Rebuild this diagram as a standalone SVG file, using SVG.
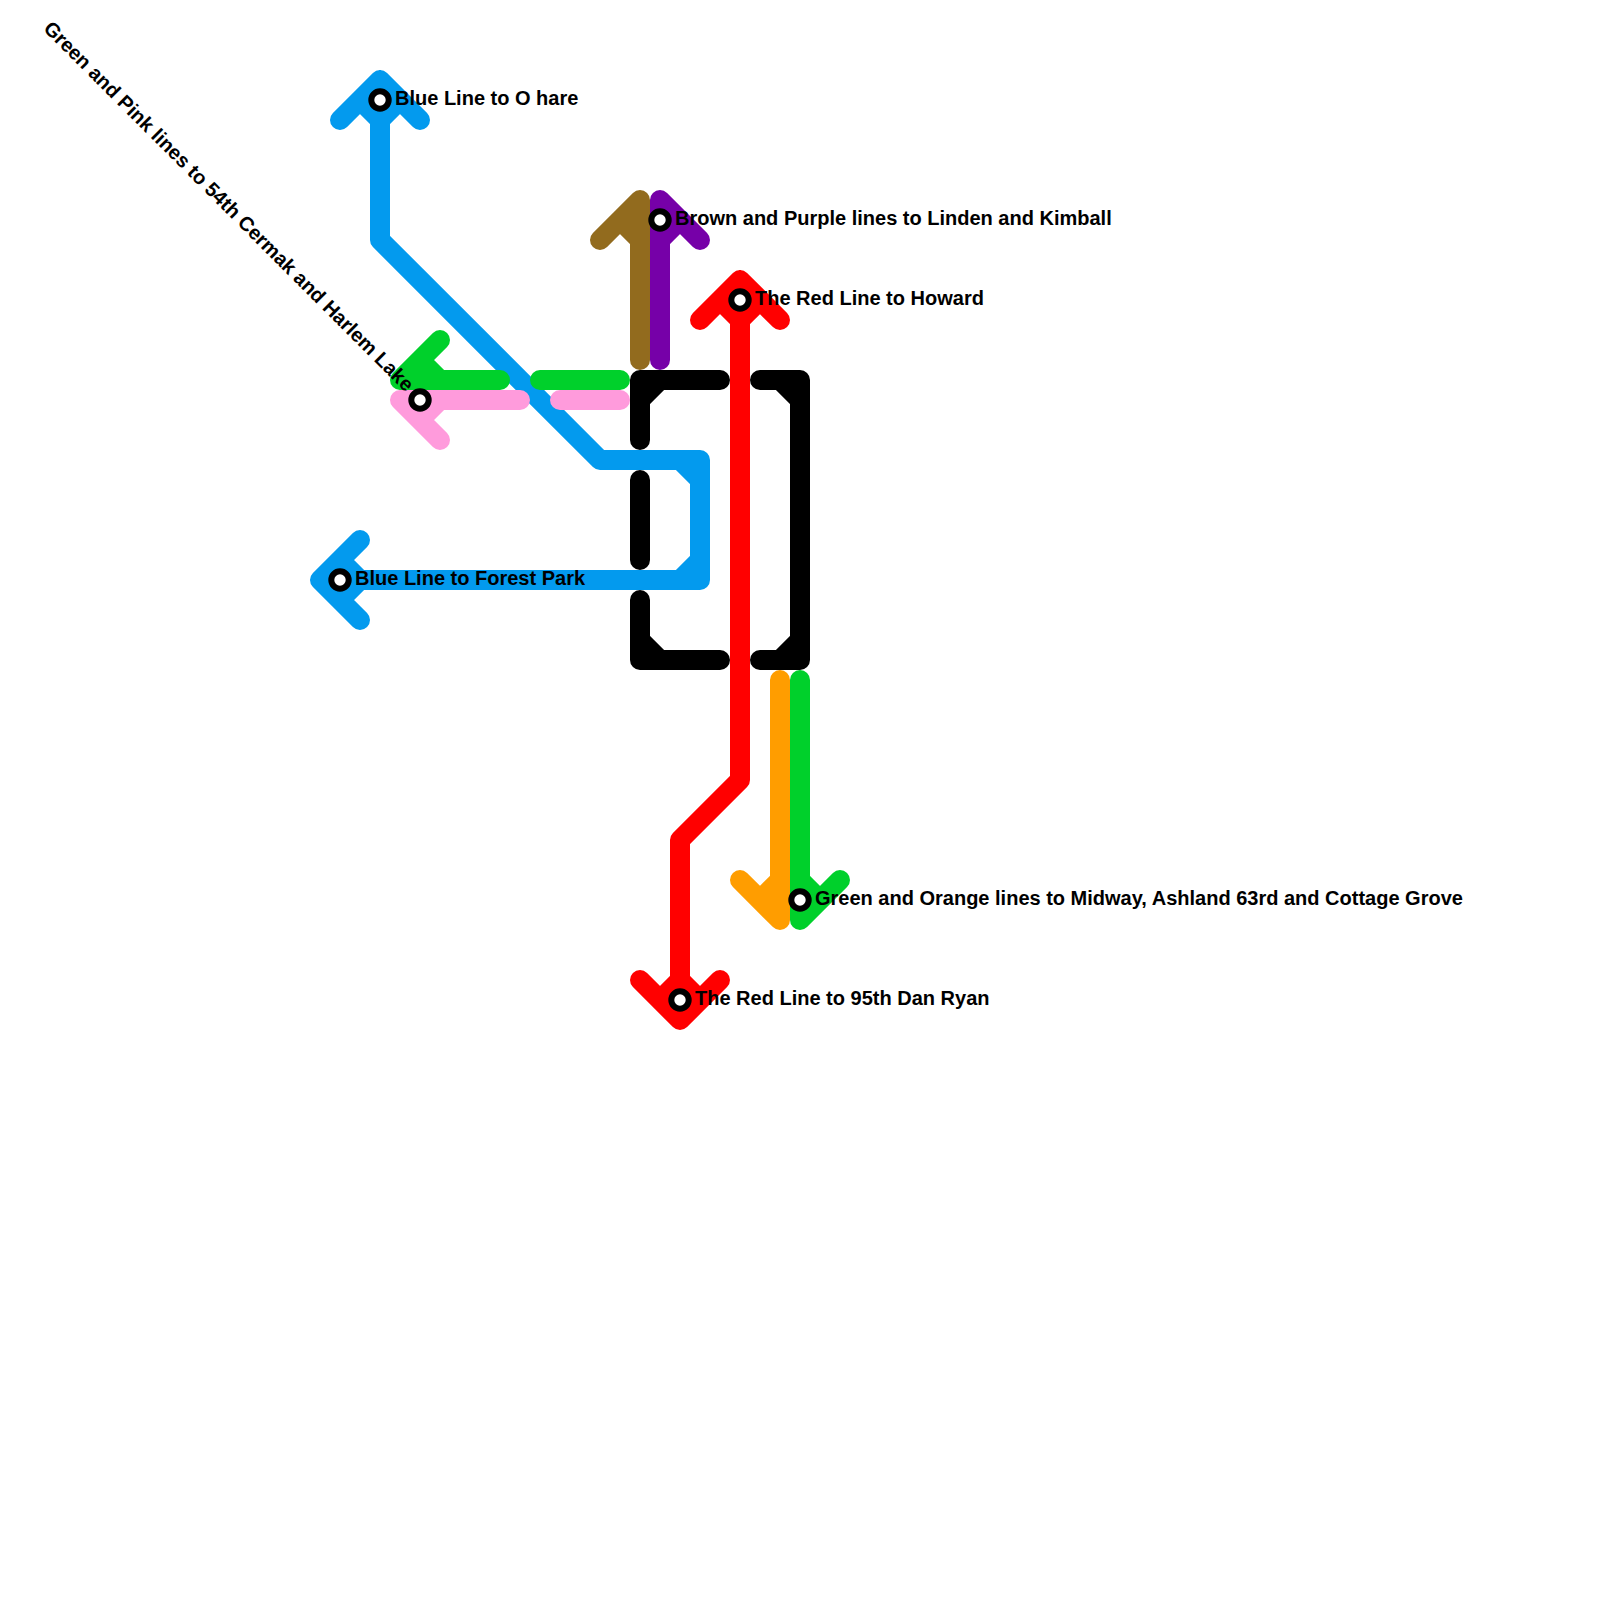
<svg xmlns="http://www.w3.org/2000/svg" width="1600" height="1600" viewBox="0 0 1600 1600">
<style>
.l{fill:none;stroke-width:20;stroke-linecap:round;stroke-linejoin:round}
.blue{stroke:#039aee}.green{stroke:#00d02b}.pink{stroke:#ff9bdc}.black{stroke:#000}.brown{stroke:#926b1e}.purple{stroke:#7600a8}.red{stroke:#ff0000}.orange{stroke:#ff9d00}
.s{fill:#fff;stroke:#000;stroke-width:6}
text{font-family:"Liberation Sans",Arial,sans-serif;font-weight:bold;font-size:20px;fill:#000}
</style>
<rect width="1600" height="1600" fill="#fff"/>
<g id="connectors">
<path class="l blue" d="M340 120L380 80L420 120M360 100L380 120M400 100L380 120M380 80V240L600 460H700V580H340M680 460L700 480M700 560L680 580M360 540L320 580L360 620M340 560L360 580M340 600L360 580"/>
<path class="l brown" d="M600 240L640 200V360M620 220L640 240"/>
<path class="l purple" d="M660 360V200L700 240M680 220L660 240"/>
<path class="l green" d="M440 340L400 380H500M420 360L440 380M540 380H620"/>
<path class="l pink" d="M440 440L400 400H520M420 420L440 400M560 400H620"/>
<path class="l black" d="M640 440V380H720M640 400L660 380M640 480V560M640 600V660H720M640 640L660 660M760 380H800V660H760M780 380L800 400M800 640L780 660"/>
<path class="l red" d="M700 320L740 280L780 320M720 300L740 320M760 300L740 320M740 280V780L680 840V1020M640 980L680 1020L720 980M660 1000L680 980M700 1000L680 980"/>
<path class="l orange" d="M780 680V920L740 880M760 900L780 880"/>
<path class="l green" d="M800 680V920L840 880M820 900L800 880"/>
</g>
<g id="node-ohare"><circle class="s" cx="380" cy="100" r="8.7"/><text x="395" y="105">Blue Line to O hare</text></g>
<g id="node-forest-park"><circle class="s" cx="340" cy="580" r="8.7"/><text x="355" y="585">Blue Line to Forest Park</text></g>
<g id="node-linden-kimball"><circle class="s" cx="660" cy="220" r="8.7"/><text x="675" y="225">Brown and Purple lines to Linden and Kimball</text></g>
<g id="node-howard"><circle class="s" cx="740" cy="300" r="8.7"/><text x="755" y="305">The Red Line to Howard</text></g>
<g id="node-midway"><circle class="s" cx="800" cy="900" r="8.7"/><text x="815" y="905">Green and Orange lines to Midway, Ashland 63rd and Cottage Grove</text></g>
<g id="node-dan-ryan"><circle class="s" cx="680" cy="1000" r="8.7"/><text x="695" y="1005">The Red Line to 95th Dan Ryan</text></g>
<g id="node-harlem"><text transform="translate(405.5 392.5) rotate(45)" text-anchor="end">Green and Pink lines to 54th Cermak and Harlem Lake</text><circle class="s" cx="420" cy="400" r="8.7"/></g>
</svg>
